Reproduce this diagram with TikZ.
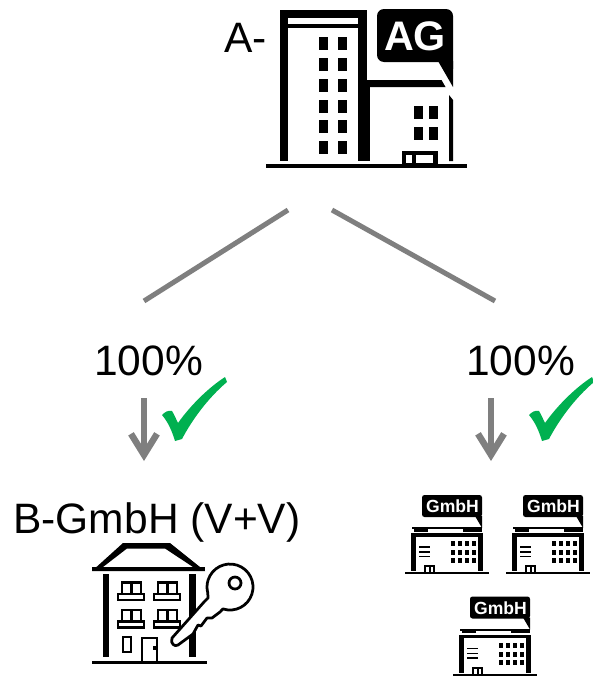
\documentclass[tikz,border=0pt]{standalone}
\usepackage{fontspec}
\setmainfont{Liberation Sans}
\usetikzlibrary{arrows.meta}

\definecolor{linegray}{HTML}{7F7F7F}
\definecolor{checkgreen}{HTML}{00B050}

\tikzset{
  bigtext/.style={inner sep=0pt, anchor=base west, font=\fontsize{24.2}{28}\selectfont},
  branchline/.style={linegray, line width=0.1cm},
  downarrow/.style={linegray, line width=0.13cm, -{Straight Barb[length=0.42cm, width=0.52cm]}},
  checkmark/.style={fill=checkgreen},
  keyline/.style={draw=black, fill=white, line width=0.055cm},
  thinwin/.style={draw=black, fill=white, line width=0.055cm},
  pics/gmbhicon/.style={code={
    % bubble
    \fill[black, rounded corners=0.05cm] (17,-77)--(77,-77)--(77,-60)--(77,-55)--(17,-55)--cycle;
    \fill[black] (70,-56)--(77,-56)--(77,-44)--cycle;
    \node[inner sep=0pt, text=white, font=\bfseries\fontsize{10}{11}\selectfont] (label) at (47.5,-65.5) {GmbH};
    % roof
    \fill[black] (7,-45) rectangle (77,-43);
    \fill[black] (9,-45) rectangle (23,-40.5);
    \fill[black] (58,-45) rectangle (77,-40.5);
    % body
    \fill[black] (6,-39) rectangle (78,-35.5);
    \fill[black] (6,-39) rectangle (11,-1);
    \fill[black] (73,-39) rectangle (78,-1);
    \foreach \wx in {46,53,60,66.5} {
      \foreach \wy in {-31,-22,-14} {
        \fill[black] (\wx,\wy) rectangle ++(4,5);
      }
    }
    \foreach \wy in {-26,-21,-16.5} {
      \fill[black] (14,\wy) rectangle ++(11,1.5);
    }
    % door
    \fill[black] (19,-7) rectangle (30,1);
    \fill[white] (21,-5) rectangle (24,0);
    \fill[white] (25.5,-5) rectangle (28,0);
    % ground
    \fill[black] (0,0) rectangle (84,2);
  }}
}

\begin{document}
\begin{tikzpicture}[x=0.02cm, y=-0.02cm]
\useasboundingbox (0,0) rectangle (592,676);

% big company
\fill[black] (280,10) rectangle (367,28);
\fill[white] (288,18) rectangle (358,24);
\fill[black] (280,10) rectangle (288,161);
\fill[black] (358,10) rectangle (367,161);
\fill[black] (367,80) rectangle (370,161);
\fill[black] (367,80)--(441.5,80)--(445.5,87)--(367,87)--cycle;
\fill[black] (449,95)--(453,100)--(453,161)--(449,161)--cycle;
\foreach \wx in {319,338} {
  \foreach \wy in {37,58,79,100,120,141} {
    \fill[black] (\wx,\wy) rectangle ++(9,12.5);
  }
}
\foreach \wx in {414,429} {
  \foreach \wy in {106,127} {
    \fill[black] (\wx,\wy) rectangle ++(9,13);
  }
}
\fill[black] (402,151) rectangle (438,165);
\fill[white] (406,155) rectangle (412,163);
\fill[white] (416,155) rectangle (433,163);
\fill[black] (266,164) rectangle (467,168);

\fill[black, rounded corners=0.14cm] (377,9)--(453,9)--(453,70)--(453,62)--(377,62)--cycle;
\fill[black] (438,61)--(453,61)--(453,87)--cycle;
\node[inner sep=0pt, text=white, font=\bfseries\fontsize{23.5}{26}\selectfont] (agtext) at (415,36.5) {AG};

\node[bigtext] (aprefix) at (224,52) {A-};

% branches
\coordinate (leftstart) at (288,210);
\coordinate (leftend) at (144,301);
\coordinate (rightstart) at (332,210);
\coordinate (rightend) at (495,301);
\draw[branchline] (leftstart)--(leftend);
\draw[branchline] (rightstart)--(rightend);

\node[bigtext] (leftshare) at (94,375) {100\%};
\node[bigtext] (rightshare) at (466,375) {100\%};

\coordinate (leftfrom) at (144,398);
\coordinate (leftto) at (144,461);
\coordinate (rightfrom) at (491,398);
\coordinate (rightto) at (491,461);
\draw[downarrow] (leftfrom)--(leftto);
\draw[downarrow] (rightfrom)--(rightto);

\foreach \cx in {0,367} {
  \begin{scope}[xshift=\cx*0.02cm]
    \fill[checkmark] (162,415) .. controls (165,412) and (168,410) .. (172,411)
      .. controls (174,414) and (176,419) .. (178,423)
      .. controls (190,406) and (208,388) .. (225,377)
      --(227,382)
      .. controls (208,398) and (192,420) .. (182,439)
      --(175,441)
      .. controls (172,431) and (168,422) .. (162,415)--cycle;
  \end{scope}
}

% rental company
\node[bigtext] (bname) at (13,533) {B-GmbH (V+V)};

\fill[black, even odd rule] (92,571)--(123,543)--(170,543)--(205,571)--cycle
  (103,567)--(127,548.5)--(165,548.5)--(193,567)--cycle;
\fill[black] (92,567) rectangle (205,571);
\fill[black] (103,574) rectangle (109,657);
\fill[black] (189,574) rectangle (196,657);
\fill[black] (92,661) rectangle (207,664);

\foreach \wx in {0,36} {
  \foreach \wy in {0,27.5} {
    \begin{scope}[shift={(\wx*0.02cm,-\wy*0.02cm)}]
      \draw[thinwin] (122,582.5) rectangle (141,594);
      \draw[black, line width=0.055cm] (131.5,582.5)--(131.5,594);
      \draw[thinwin] (118,594) rectangle (144,600);
    \end{scope}
  }
}
\draw[thinwin] (123,637) rectangle (131,652);
\draw[black, line width=0.055cm] (142,661)--(142,638)--(157,638)--(157,661);
\fill[black] (153,646) rectangle (157,650);

% key
\draw[keyline, line join=round] (222.9,608.9) arc[start angle=108, end angle=-195, radius=23]
  --(208,598)--(204,602)--(172,638)
  .. controls (170,644) and (175,647) .. (178,645)
  --(193,634)--(198,625)--(201,626)--(207,618)--(212,618)--(220,612)--cycle;
\draw[keyline] (235,583) circle [radius=6];

% subsidiaries
\pic (gmbhone) at (405,572) {gmbhicon};
\pic (gmbhtwo) at (506,572) {gmbhicon};
\pic (gmbhthree) at (453,673.5) {gmbhicon};

\end{tikzpicture}
\end{document}
